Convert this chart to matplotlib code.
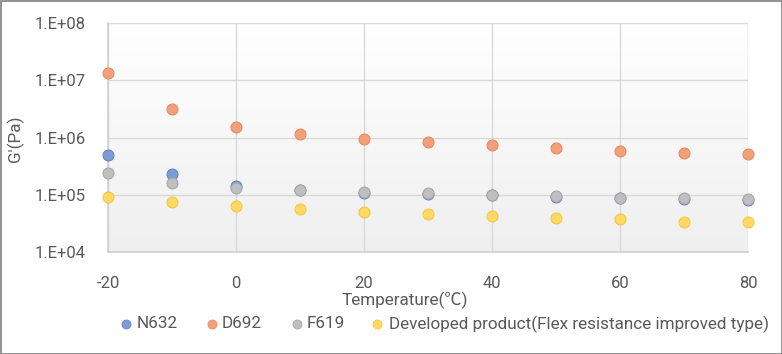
import matplotlib
matplotlib.use("Agg")
import matplotlib.pyplot as plt
import numpy as np
from matplotlib.patches import Rectangle
from matplotlib.lines import Line2D
from matplotlib import font_manager
from matplotlib.colors import LinearSegmentedColormap

available = {f.name for f in font_manager.fontManager.ttflist}
base = 'Liberation Sans Narrow' if 'Liberation Sans Narrow' in available else 'Roboto'
FAM = [base, 'Noto Sans CJK JP', 'DejaVu Sans']
plt.rcParams['font.family'] = FAM
plt.rcParams['axes.unicode_minus'] = False

temps = [-20, -10, 0, 10, 20, 30, 40, 50, 60, 70, 80]
n632 = [5.0e5, 2.27e5, 1.4e5, 1.2e5, 1.08e5, 1.05e5, 9.8e4, 9.2e4, 8.6e4, 8.3e4, 8.0e4]
d692 = [1.35e7, 3.1e6, 1.55e6, 1.15e6, 9.6e5, 8.3e5, 7.4e5, 6.6e5, 5.8e5, 5.4e5, 5.2e5]
f619 = [2.43e5, 1.62e5, 1.32e5, 1.21e5, 1.1e5, 1.07e5, 1.0e5, 9.4e4, 8.9e4, 8.8e4, 8.4e4]
dev = [9.1e4, 7.5e4, 6.3e4, 5.6e4, 5.0e4, 4.7e4, 4.2e4, 3.9e4, 3.7e4, 3.4e4, 3.3e4]
names = ["N632", "D692", "F619", "Developed product(Flex resistance improved type)"]
ytick_vals = [1e4, 1e5, 1e6, 1e7, 1e8]
ytick_labels = ["1.E+04", "1.E+05", "1.E+06", "1.E+07", "1.E+08"]
xtick_vals = [-20, 0, 20, 40, 60, 80]
xtick_labels = ["-20", "0", "20", "40", "60", "80"]

W, H = 782, 354
fig = plt.figure(figsize=(W/100, H/100), dpi=100)
renderer = fig.canvas.get_renderer()

def fit_size(text, target_px, start=12.0):
    t = fig.text(0, 0, text, fontsize=start)
    w = t.get_window_extent(renderer).width
    t.remove()
    return start * target_px / w

TXT = '#595959'
leg_fs = fit_size(names[3], 381)
tick_fs = fit_size("1.E+08", 51)

ax = fig.add_axes([108/W, 1-252/H, (748-108)/W, (252-23)/H])
ax.set_yscale('log')

grad = np.linspace(0, 1, 256).reshape(-1, 1)
cmap = LinearSegmentedColormap.from_list('g', ['#efefef', '#ffffff'])
ax.imshow(grad, aspect='auto', cmap=cmap, origin='lower',
          extent=[0, 1, 0, 1], transform=ax.transAxes, zorder=0)
ax.set_xlim(-20, 80)
ax.set_ylim(1e4, 1e8)

ax.set_yticks(ytick_vals)
ax.set_yticklabels(ytick_labels)
ax.set_xticks(xtick_vals)
ax.set_xticklabels(xtick_labels)
ax.yaxis.set_minor_locator(matplotlib.ticker.NullLocator())
ax.grid(True, color='#d9d9d9', lw=1, zorder=1)
ax.set_axisbelow(True)
for s in ['top', 'right']:
    ax.spines[s].set_visible(False)
for s in ['left', 'bottom']:
    ax.spines[s].set_color('#d0d0d0')
    ax.spines[s].set_linewidth(1.2)
ax.tick_params(axis='y', length=0, labelsize=tick_fs, colors=TXT, pad=16)
ax.tick_params(axis='x', length=0, labelsize=tick_fs, colors=TXT, pad=17)

colors = [('#7f9bd6', '#6a87c8'), ('#f2a07c', '#ea8c62'),
          ('#bfbfbf', '#a8a8a8'), ('#ffd966', '#f5c842')]
for vals, (fc, ec) in zip([n632, d692, f619, dev], colors):
    ax.scatter(temps, vals, s=62, c=fc, edgecolors=ec, linewidths=0.8,
               zorder=3, clip_on=False)

fig.text(405/W, 1-300/H, 'Temperature(℃)', fontsize=leg_fs, color=TXT,
         ha='center', va='center')
fig.text(15/W, 1-139/H, "G'(Pa)", fontsize=leg_fs, color=TXT,
         ha='center', va='center', rotation=90)

marker_x = [126, 212, 297, 377]
text_x = [137, 222, 307, 389]
ly = 1 - 324/H
for (fc, ec), mx, tx, nm in zip(colors, marker_x, text_x, names):
    fig.add_artist(Line2D([mx/W], [ly], marker='o', markersize=6.5, color=fc,
                          markeredgecolor=ec, markeredgewidth=0.6, linestyle='none',
                          transform=fig.transFigure))
    fig.text(tx/W, ly, nm, fontsize=leg_fs, color=TXT, ha='left', va='center')

fig.patches.append(Rectangle((0.5/W, 0.5/H), 1-1/W, 1-1/H, transform=fig.transFigure,
                             fill=False, edgecolor='#7f7f7f', lw=1.2))
fig.savefig('out.png', dpi=100, facecolor='white')
